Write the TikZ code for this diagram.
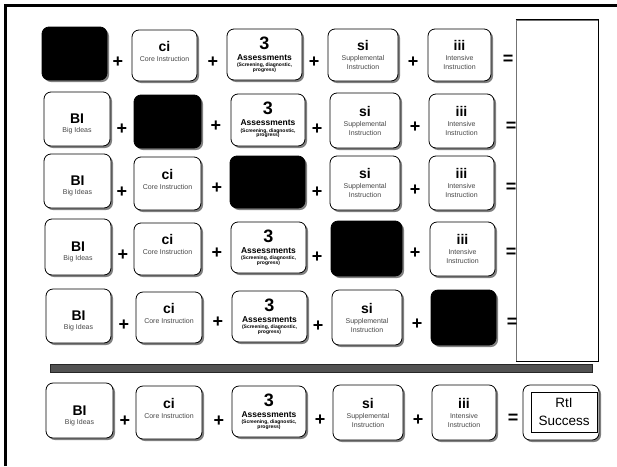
\documentclass[tikz,border=0pt]{standalone}
\usepackage{fontspec}
\setmainfont{Liberation Sans}
\usetikzlibrary{shadows}
\tikzset{
  rbox/.style={draw=black, line width=0.8pt, rounded corners=7pt, fill=white,
    drop shadow={shadow xshift=2pt, shadow yshift=-2pt, fill=black!50, opacity=1},
    inner sep=0pt},
  bbox/.style={rbox, fill=black},
  txt/.style={align=center, inner sep=0pt, font=\fontsize{7}{9}\selectfont},
  op/.style={font=\fontsize{18}{18}\selectfont\bfseries, inner sep=0pt},
  rtitxt/.style={draw=black, line width=0.8pt, align=center, inner sep=0pt,
    font=\fontsize{13.5}{18}\selectfont},
}
\newcommand\hd[1]{{\fontsize{14}{14}\selectfont\bfseries #1}}
\newcommand\sm[1]{{\color{black!72}#1}}
\newcommand\bitxt{\hd{BI}\\\sm{Big Ideas}}
\newcommand\citxt{\hd{ci}\\[1pt]\sm{Core Instruction}}
\newcommand\sitxt{\hd{si}\\[1pt]\sm{Supplemental}\\\sm{Instruction}}
\newcommand\iiitxt{\hd{iii}\\[1pt]\sm{Intensive}\\\sm{Instruction}}
\newcommand\thtxt{{\fontsize{18}{18}\selectfont\bfseries 3}\\[2pt]{\fontsize{8.5}{9}\selectfont\bfseries Assessments}\\[-2.5pt]{\fontsize{5}{5}\selectfont\bfseries (Screening, diagnostic,}\\[-4.2pt]{\fontsize{5}{5}\selectfont\bfseries progress)}}
\newcommand\mybox[7]{\node[rbox, minimum width=#4pt, minimum height=#5pt] (#1) at (#2,#3) {};
  \node[txt] (#1t) at ([yshift=#7pt]#1.center) {#6};}
\newcommand\myblk[5]{\node[bbox, minimum width=#4pt, minimum height=#5pt] (#1) at (#2,#3) {};}
\newcommand\myop[4]{\node[op] (#1) at (#2,#3) {#4};}
\begin{document}
\begin{tikzpicture}[x=1pt,y=-1pt]
\useasboundingbox (0,0) rectangle (617,466);
\fill[white] (0,0) rectangle (617,466);
% frame
\draw[line width=3pt] (5.5,466) -- (5.5,5.5) -- (617,5.5);
% result column
\node[draw=black!55, line width=1pt, minimum width=82pt, minimum height=341pt, inner sep=0pt] (res) at (557,190.5) {};
\draw[line width=1.3pt] (res.north west) -- (res.north east) -- (res.south east) -- (res.south west);
% row 1
\myblk{a1}{74.5}{53.5}{65}{53}
\mybox{a2}{164.5}{55.5}{65}{51}{\citxt}{4.5}
\mybox{a3}{264.5}{54.5}{75}{51}{\thtxt}{0}
\mybox{a4}{363}{55}{70}{52}{\sitxt}{0}
\mybox{a5}{459.5}{55}{63}{52}{\iiitxt}{0}
\myop{pa1}{118}{62}{+}\myop{pa2}{213}{62}{+}\myop{pa3}{314}{62}{+}\myop{pa4}{413}{62}{+}\myop{qa}{508}{60}{=}
% row 2
\mybox{b1}{77}{119}{66}{54}{\bitxt}{-5}
\myblk{b2}{167.5}{121.5}{67}{53}
\mybox{b3}{268}{120}{74}{52}{\thtxt}{0}
\mybox{b4}{365}{120.5}{70}{55}{\sitxt}{0}
\mybox{b5}{461.5}{121}{65}{54}{\iiitxt}{0}
\myop{pb1}{122}{129}{+}\myop{pb2}{216}{126}{+}\myop{pb3}{317}{129}{+}\myop{pb4}{415}{127}{+}\myop{qb}{511}{127}{=}
% row 3
\mybox{c1}{77.5}{181}{67}{54}{\bitxt}{-5}
\mybox{c2}{167.5}{183.5}{67}{53}{\citxt}{4.5}
\myblk{c3}{267.5}{182}{75}{52}
\mybox{c4}{365}{183}{70}{54}{\sitxt}{0}
\mybox{c5}{461.5}{183}{65}{54}{\iiitxt}{0}
\myop{pc1}{122}{192}{+}\myop{pc2}{217}{188}{+}\myop{pc3}{317}{192}{+}\myop{pc4}{415}{190}{+}\myop{qc}{511}{188}{=}
% row 4
\mybox{d1}{78}{247}{66}{56}{\bitxt}{-5}
\mybox{d2}{167.5}{249}{67}{52}{\citxt}{4.5}
\mybox{d3}{268.5}{247.5}{75}{51}{\thtxt}{0}
\myblk{d4}{366.5}{248.5}{71}{55}
\mybox{d5}{462.5}{249}{65}{54}{\iiitxt}{0}
\myop{pd1}{123}{255}{+}\myop{pd2}{217}{253}{+}\myop{pd3}{317}{257}{+}\myop{pd4}{415}{253}{+}\myop{qd}{511}{253}{=}
% row 5
\mybox{e1}{78.5}{316}{65}{54}{\bitxt}{-5}
\mybox{e2}{169}{317.5}{66}{51}{\citxt}{4.5}
\mybox{e3}{269.5}{316.5}{75}{51}{\thtxt}{0}
\mybox{e4}{367}{317.5}{70}{55}{\sitxt}{0}
\myblk{e5}{463.5}{317.5}{65}{55}
\myop{pe1}{124}{325}{+}\myop{pe2}{218}{322}{+}\myop{pe3}{318}{326}{+}\myop{pe4}{417}{324}{+}\myop{qe}{512}{323}{=}
% separator bar
\node[draw=black!85, fill=black!68, line width=0.6pt, minimum width=542pt, minimum height=8pt, inner sep=0pt] (bar) at (321,368) {};
% bottom row
\mybox{f1}{79.5}{410.5}{67}{55}{\bitxt}{-5}
\mybox{f2}{169}{412.5}{66}{53}{\citxt}{4.5}
\mybox{f3}{269}{411.5}{74}{51}{\thtxt}{0}
\mybox{f4}{368}{412.5}{70}{55}{\sitxt}{0}
\mybox{f5}{464}{412.5}{64}{55}{\iiitxt}{0}
\myop{pf1}{125}{421}{+}\myop{pf2}{219}{421}{+}\myop{pf3}{320}{420}{+}\myop{pf4}{418}{420}{+}\myop{qf}{513}{419}{=}
\node[rbox, minimum width=76pt, minimum height=55pt] (rti) at (561,412.5) {};
\node[rtitxt, minimum width=66pt, minimum height=40pt] (rtiin) at (564,412) {RtI\\Success};
\end{tikzpicture}
\end{document}
